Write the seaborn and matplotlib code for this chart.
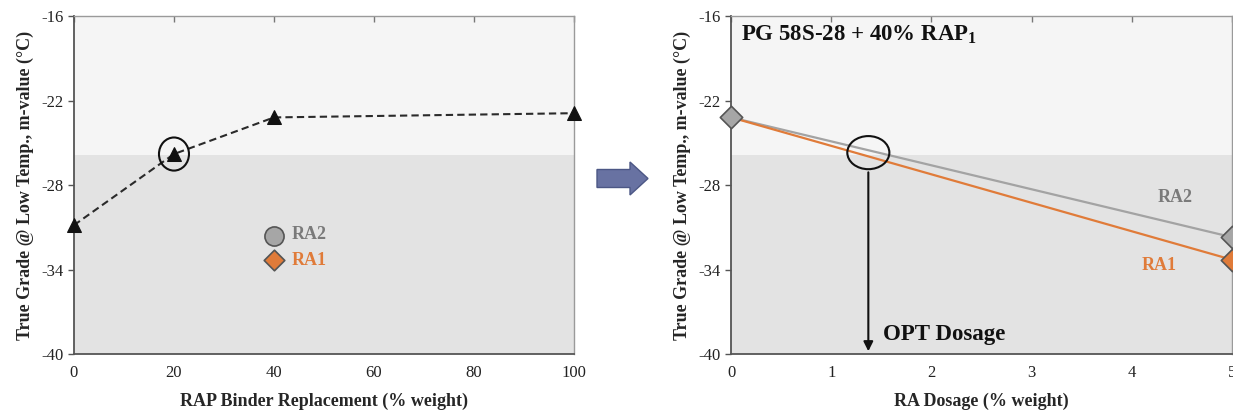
import numpy as np
import pandas as pd
import matplotlib
matplotlib.use("Agg")
import matplotlib.pyplot as plt
from matplotlib.patches import Ellipse, FancyArrow
import seaborn as sns

# ---- data ----
rap_replacement = [0, 20, 40, 100]
true_grade_rap = [-30.85, -25.8, -23.2, -22.9]
ra_marker_x = 40
ra2_marker_y = -31.6
ra1_marker_y = -33.3

ra_dosage = [0, 5]
ra2_grade = [-23.2, -31.7]
ra1_grade = [-23.2, -33.3]
threshold = -25.9
opt_dosage = 1.37

left_xticks = [0, 20, 40, 60, 80, 100]
right_xticks = [0, 1, 2, 3, 4, 5]
yticks = [-40, -34, -28, -22, -16]

sns.set_theme(style="white")
plt.rcParams['font.family'] = ['Liberation Serif', 'DejaVu Serif']
plt.rcParams['mathtext.fontset'] = 'custom'
plt.rcParams['mathtext.rm'] = 'Liberation Serif:bold'
plt.rcParams['mathtext.bf'] = 'Liberation Serif:bold'
plt.rcParams['axes.unicode_minus'] = False

GRAY = '#a3a3a3'
ORANGE = '#e07b39'
DARK_REGION = '#e3e3e3'
LIGHT_REGION = '#f5f5f5'

fig = plt.figure(figsize=(12.33, 4.17), dpi=100)
ax1 = fig.add_axes([0.060, 0.151, 0.4055, 0.8106])
ax2 = fig.add_axes([0.593, 0.151, 0.406, 0.8106])

def style_axes(ax, xticks, xlim):
    ax.set_xlim(*xlim)
    ax.set_ylim(-40, -16)
    ax.axhspan(-40, threshold, color=DARK_REGION, zorder=0, lw=0)
    ax.axhspan(threshold, -16, color=LIGHT_REGION, zorder=0, lw=0)
    ax.set_xticks(xticks)
    ax.set_yticks(yticks)
    ax.tick_params(axis='both', labelsize=12, colors='#222222')
    ax.tick_params(axis='y', direction='out', length=4, width=1, color='#555555', left=True)
    ax.tick_params(axis='x', direction='in', length=4, width=1, color='#777777',
                   bottom=False, top=True, labeltop=False, labelbottom=True, pad=8)
    for s in ['left', 'bottom']:
        ax.spines[s].set_color('#555555')
        ax.spines[s].set_linewidth(1.3)
    for s in ['top', 'right']:
        ax.spines[s].set_color('#9a9a9a')
        ax.spines[s].set_linewidth(1.0)
    ax.set_ylabel('True Grade @ Low Temp., m-value (°C)', fontsize=13, fontweight='bold', labelpad=5)

# ---- left panel ----
style_axes(ax1, left_xticks, (0, 100))
df_left = pd.DataFrame({'x': rap_replacement, 'y': true_grade_rap})
sns.lineplot(data=df_left, x='x', y='y', ax=ax1, color='#2a2a2a', lw=1.5,
             linestyle=(0, (3.5, 2)), marker='^', markersize=10,
             markerfacecolor='#111111', markeredgecolor='#111111', clip_on=False, zorder=4)
sns.scatterplot(x=[ra_marker_x], y=[ra2_marker_y], ax=ax1, marker='o', s=190,
                color='#a6a6a6', edgecolor='#555555', linewidth=1.2, zorder=5)
sns.scatterplot(x=[ra_marker_x], y=[ra1_marker_y], ax=ax1, marker='D', s=110,
                color=ORANGE, edgecolor='#555555', linewidth=1.2, zorder=5)
ax1.text(ra_marker_x + 3.5, ra2_marker_y + 0.1, 'RA2', color='#7a7a7a', fontsize=13,
         fontweight='bold', va='center', ha='left')
ax1.text(ra_marker_x + 3.5, ra1_marker_y - 0.05, 'RA1', color=ORANGE, fontsize=13,
         fontweight='bold', va='center', ha='left')
ax1.add_patch(Ellipse((rap_replacement[1], true_grade_rap[1]), 6.0, 2.35,
                      fill=False, edgecolor='#111111', lw=1.5, zorder=6))
ax1.set_xlabel('RAP Binder Replacement (% weight)', fontsize=13, fontweight='bold', labelpad=8)

# ---- right panel ----
style_axes(ax2, right_xticks, (0, 5))
df_right = pd.DataFrame({'x': ra_dosage * 2,
                         'y': ra2_grade + ra1_grade,
                         'RA': ['RA2'] * 2 + ['RA1'] * 2})
sns.lineplot(data=df_right, x='x', y='y', hue='RA', palette={'RA2': GRAY, 'RA1': ORANGE},
             ax=ax2, lw=1.6, legend=False, zorder=3)
sns.scatterplot(x=[ra_dosage[1]], y=[ra1_grade[1]], ax=ax2, marker='D', s=130,
                color=ORANGE, edgecolor='#555555', linewidth=1.2, zorder=5, clip_on=False)
sns.scatterplot(x=ra_dosage, y=ra2_grade, ax=ax2, marker='D', s=130,
                color='#a6a6a6', edgecolor='#555555', linewidth=1.2, zorder=5, clip_on=False)
ax2.text(4.43, -28.9, 'RA2', color='#7a7a7a', fontsize=13, fontweight='bold', ha='center', va='center')
ax2.text(4.27, -33.7, 'RA1', color=ORANGE, fontsize=13, fontweight='bold', ha='center', va='center')
ax2.add_patch(Ellipse((opt_dosage, -25.7), 0.42, 2.35, fill=False, edgecolor='#111111', lw=1.5, zorder=6))
ax2.annotate('', xy=(opt_dosage, -40), xytext=(opt_dosage, -26.9),
             arrowprops=dict(arrowstyle='-|>', color='#111111', lw=1.5, mutation_scale=14), zorder=6)
ax2.text(1.52, -38.6, 'OPT Dosage', fontsize=16.5, fontweight='bold', ha='left', va='center', color='#111111')
ax2.text(0.1, -17.35, 'PG 58S-28 + 40% RAP$_{1}$', fontsize=16.5, fontweight='bold',
         ha='left', va='center', color='#111111')
ax2.set_xlabel('RA Dosage (% weight)', fontsize=13, fontweight='bold', labelpad=8)

# ---- arrow between panels ----
fig.add_artist(FancyArrow(5.97, 2.385, 0.51, 0.0, width=0.18, head_width=0.33, head_length=0.18,
                          length_includes_head=True, transform=fig.dpi_scale_trans,
                          facecolor='#6872a2', edgecolor='#4c5785', lw=1.0))

fig.savefig('out.png', dpi=100)
